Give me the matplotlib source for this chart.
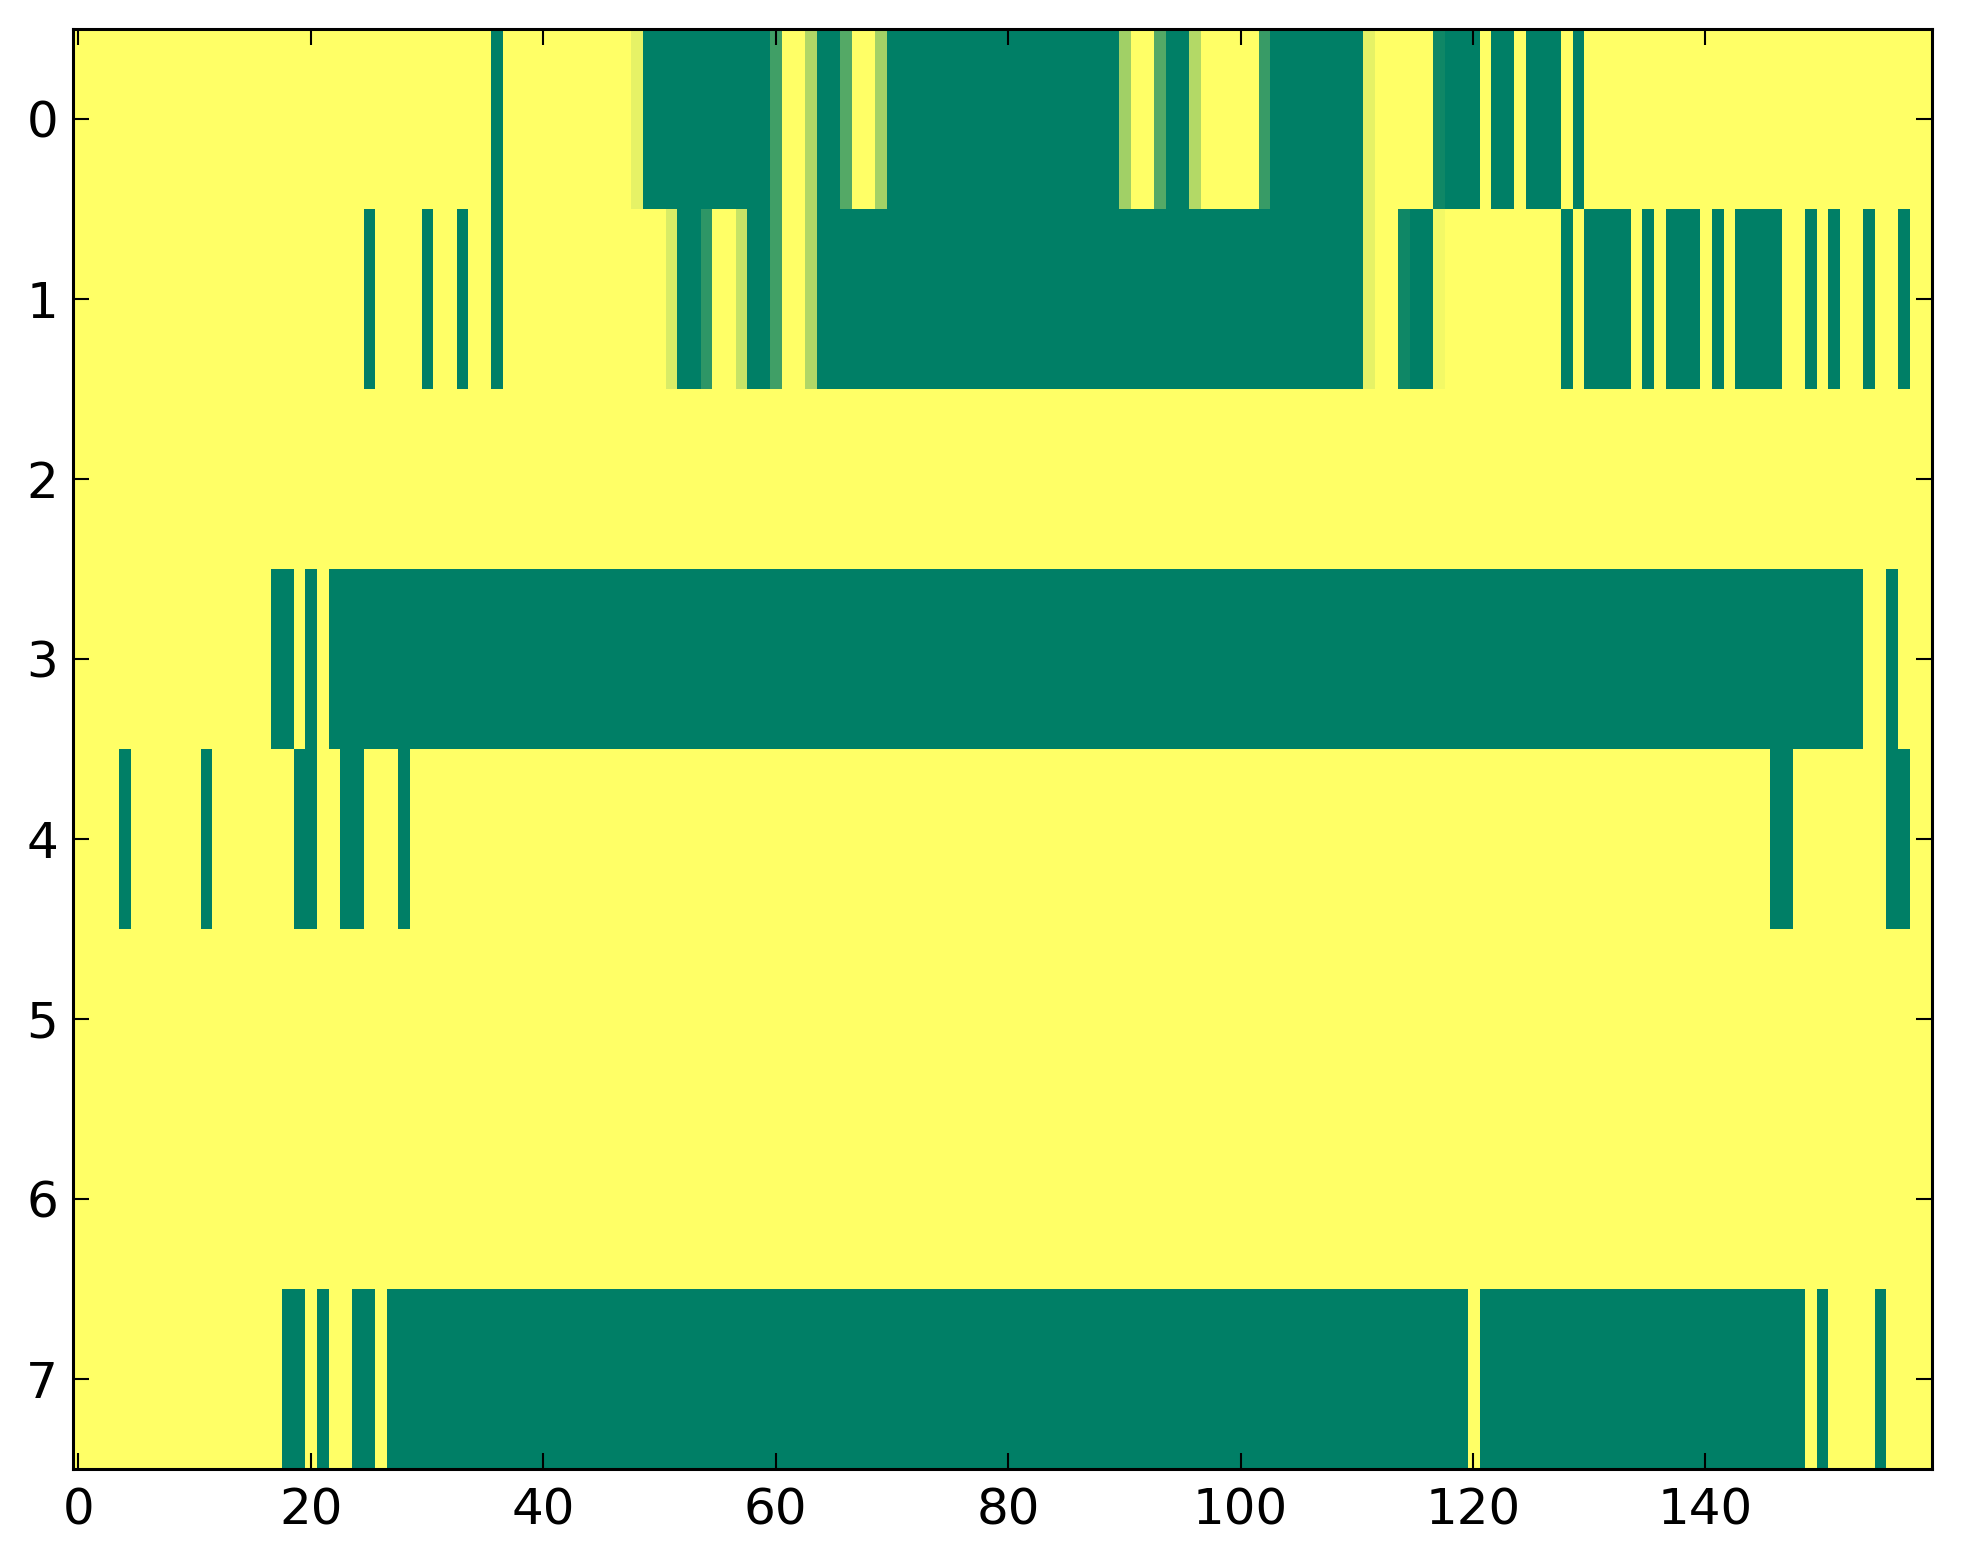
import numpy as np
import matplotlib
matplotlib.use("Agg")
import matplotlib.pyplot as plt

# each row: (run length, value) pairs, 160 columns per row
row0 = [(36, 1), (1, 0), (11, 1), (1, 0.9), (11, 0), (1, 0.25), (2, 1), (1, 0.69),
        (2, 0), (1, 0.33), (2, 1), (1, 0.64), (20, 0), (1, 0.63), (2, 1), (1, 0.33),
        (2, 0), (1, 0.7), (5, 1), (1, 0.22), (8, 0), (1, 0.9), (5, 1), (1, 0.06),
        (3, 0), (1, 1), (2, 0), (1, 1), (3, 0), (1, 1), (1, 0), (30, 1)]
row1 = [(25, 1), (1, 0), (4, 1), (1, 0), (2, 1), (1, 0), (2, 1), (1, 0), (14, 1),
        (1, 0.85), (2, 0), (1, 0.18), (2, 1), (1, 0.78), (2, 0), (1, 0.25), (2, 1),
        (1, 0.69), (47, 0), (1, 0.9), (2, 1), (1, 0.06), (2, 0), (1, 0.95), (10, 1),
        (1, 0), (1, 1), (4, 0), (1, 1), (1, 0), (1, 1), (3, 0), (1, 1), (1, 0), (1, 1),
        (4, 0), (2, 1), (1, 0), (1, 1), (1, 0), (2, 1), (1, 0), (2, 1), (1, 0), (2, 1)]
row2 = [(160, 1)]
row3 = [(17, 1), (2, 0), (1, 1), (1, 0), (1, 1), (132, 0), (2, 1), (1, 0), (3, 1)]
row4 = [(4, 1), (1, 0), (6, 1), (1, 0), (7, 1), (2, 0), (2, 1), (2, 0), (3, 1), (1, 0),
        (117, 1), (2, 0), (8, 1), (2, 0), (2, 1)]
row5 = [(160, 1)]
row6 = [(160, 1)]
row7 = [(18, 1), (2, 0), (1, 1), (1, 0), (2, 1), (2, 0), (1, 1), (93, 0), (1, 1),
        (28, 0), (1, 1), (1, 0), (4, 1), (1, 0), (4, 1)]

rows = [row0, row1, row2, row3, row4, row5, row6, row7]
xticks = [0, 20, 40, 60, 80, 100, 120, 140]
yticks = [0, 1, 2, 3, 4, 5, 6, 7]


def expand(runs):
    counts = [r[0] for r in runs]
    vals = [r[1] for r in runs]
    return np.repeat(vals, counts)


grid = np.array([expand(r) for r in rows])

fig = plt.figure(figsize=(19.63, 15.64), dpi=100)
ax = fig.add_axes([72.6 / 1963, (1564 - 1468.7) / 1564,
                   (1932 - 72.6) / 1963, (1468.7 - 28.7) / 1564])
ax.imshow(grid, cmap="summer", vmin=0, vmax=1, aspect="auto",
          interpolation="nearest")

ax.set_xticks(xticks)
ax.set_yticks(yticks)
ax.tick_params(direction="in", length=11.3, width=1.5, top=True, right=True,
               labelsize=36)
ax.tick_params(axis="x", pad=12.5)
ax.tick_params(axis="y", pad=10.5)
for s in ax.spines.values():
    s.set_linewidth(2.2)

fig.savefig("out.png", dpi=100, facecolor="white")
